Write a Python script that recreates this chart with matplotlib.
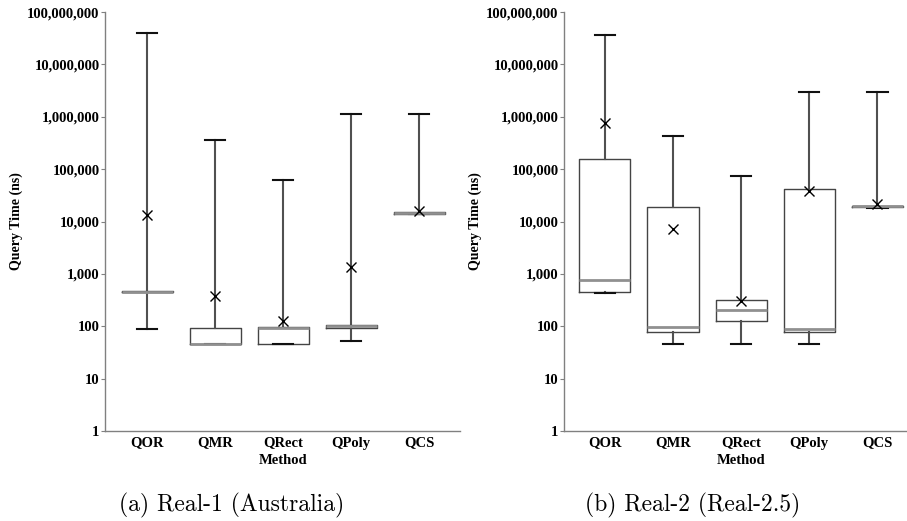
import numpy as np
import matplotlib
matplotlib.use("Agg")
import matplotlib.pyplot as plt
from matplotlib.ticker import FixedLocator, FuncFormatter

plt.rcParams['font.family'] = ['Liberation Serif', 'DejaVu Serif']
plt.rcParams['font.weight'] = 'bold'

methods = ['QOR', 'QMR', 'QRect', 'QPoly', 'QCS']

# Real-1 (Australia)
r1_min = [90, 45, 45, 52, 14000]
r1_q1 = [455, 46, 46, 92, 14000]
r1_med = [460, 46, 94, 100, 14500]
r1_q3 = [465, 93, 96, 106, 15500]
r1_max = [40000000, 367000, 60800, 1150000, 1150000]
r1_mean = [13400, 385, 125, 1380, 16200]

# Real-2 (Real-2.5)
r2_min = [433, 45, 45, 45, 18000]
r2_q1 = [459, 78, 126, 78, 18700]
r2_med = [756, 99, 208, 87, 19800]
r2_q3 = [153000, 18700, 313, 42000, 20200]
r2_max = [36900000, 437000, 73500, 2950000, 3000000]
r2_mean = [751000, 7250, 305, 38600, 21400]

captions = ['(a) Real-1 (Australia)', '(b) Real-2 (Real-2.5)']


def stats(lo, q1, med, q3, hi, mean):
    out = []
    for i in range(len(methods)):
        out.append({'whislo': lo[i], 'q1': q1[i], 'med': med[i], 'q3': q3[i],
                    'whishi': hi[i], 'mean': mean[i], 'fliers': [],
                    'label': methods[i]})
    return out


fig = plt.figure(figsize=(9.07, 5.21), dpi=100)
ax1 = fig.add_axes([0.1158, 0.1727, 0.3914, 0.8042])
ax2 = fig.add_axes([0.6218, 0.1727, 0.3770, 0.8042])

panels = [
    (ax1, stats(r1_min, r1_q1, r1_med, r1_q3, r1_max, r1_mean), (-0.62, 4.6)),
    (ax2, stats(r2_min, r2_q1, r2_med, r2_q3, r2_max, r2_mean), (-0.6, 4.42)),
]

for k, (ax, st, xl) in enumerate(panels):
    ax.bxp(st, positions=range(5), widths=0.75, showmeans=True, showfliers=False,
           boxprops=dict(color='#444444', linewidth=1.0),
           whiskerprops=dict(color='#505050', linewidth=1.5),
           capprops=dict(color='#111111', linewidth=1.5),
           capwidths=0.3,
           medianprops=dict(color='#909090', linewidth=2.0),
           meanprops=dict(marker='x', markeredgecolor='black', markersize=7,
                          markeredgewidth=1.0))
    ax.set_yscale('log')
    ax.set_ylim(1, 1e8)
    ax.set_xlim(*xl)
    ax.yaxis.set_major_locator(FixedLocator([10 ** i for i in range(9)]))
    ax.yaxis.set_minor_locator(FixedLocator([]))
    ax.yaxis.set_major_formatter(FuncFormatter(lambda v, p: '{:,.0f}'.format(v)))
    ax.tick_params(axis='y', labelsize=10.5, length=3, width=0.8, color='#808080', pad=1)
    ax.tick_params(axis='x', labelsize=10.5, length=0, pad=4)
    for s in ['top', 'right']:
        ax.spines[s].set_visible(False)
    for s in ['left', 'bottom']:
        ax.spines[s].set_color('#808080')
        ax.spines[s].set_linewidth(1.0)
    ax.set_ylabel('Query Time (ns)', fontsize=10, fontweight='bold', labelpad=3)
    ax.set_xlabel('Method', fontsize=10.5, fontweight='bold', labelpad=0)
    center = (2 - xl[0]) / (xl[1] - xl[0])
    ax.xaxis.set_label_coords(center, -0.055)
    ax.patch.set_visible(False)

fig.text(232 / 907, 1 - 505 / 521, captions[0], family='cmr10', fontsize=17,
         fontweight='normal', ha='center', va='center')
fig.text(693 / 907, 1 - 505 / 521, captions[1], family='cmr10', fontsize=17,
         fontweight='normal', ha='center', va='center')

fig.savefig('out.png', dpi=100)
